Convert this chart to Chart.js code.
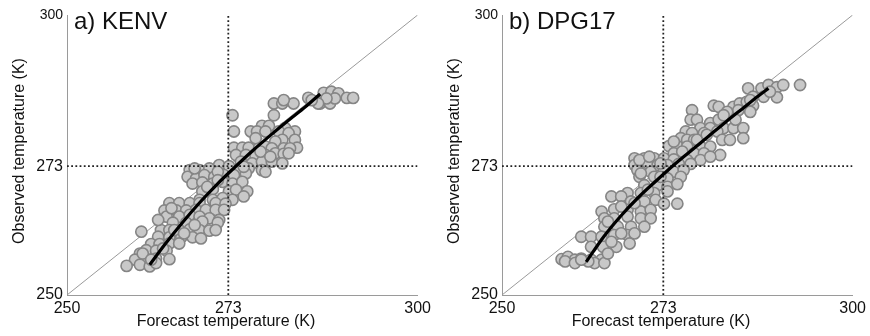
<!DOCTYPE html>
<html>
<head>
<meta charset="utf-8">
<title>Forecast vs observed temperature</title>
<script src="https://cdn.jsdelivr.net/npm/chart.js@4.4.1/dist/chart.umd.min.js"></script>
<style>
  html, body { margin: 0; padding: 0; background: #fff; }
  .panel { position: absolute; top: 0; width: 435px; height: 336px; }
</style>
</head>
<body>
<div class="panel" style="left:0"><canvas id="kenv" width="435" height="336"></canvas></div>
<div class="panel" style="left:435px"><canvas id="dpg17" width="435" height="336"></canvas></div>
<script>
const FONT = "'Liberation Sans', Arial, Helvetica, sans-serif";
Chart.defaults.font.family = FONT;
Chart.defaults.color = '#111';

// axis ticks (K) and the freezing point marked by the dotted lines
const tickValues = [250, 273, 300];
const freezing = 273;

// a) KENV
const kenvForecast = [
  284.4, 286.6, 287.7, 288.7, 286.1, 287.5, 288.2, 289.9, 290.8, 287.0,
  279.5, 280.7, 282.3, 285.8, 273.6, 279.5, 277.8, 278.8, 281.1,
  273.8, 276.2, 277.1, 278.3, 280.2, 282.5, 281.6, 280.7, 282.5, 279.7,
  273.8, 275.0, 275.9, 277.4, 278.3, 279.2, 280.9, 282.8, 281.8,
  274.1, 275.5, 276.9, 278.3, 279.7, 280.9,
  274.8, 276.4, 277.8, 279.2, 280.7,
  267.5, 268.9, 270.3, 271.7, 273.1, 274.5, 275.9, 277.8, 278.3,
  267.2, 268.4, 269.6, 271.0, 272.4, 273.8, 275.5,
  267.9, 269.3, 270.8, 272.2, 273.6, 275.0,
  269.3, 270.8, 273.1, 274.1, 275.7,
  268.9, 270.8, 272.2, 273.6, 275.2,
  264.6, 266.0, 267.5, 268.9, 271.2, 272.6,
  263.9, 265.6, 267.0, 268.4, 269.8, 271.2, 272.4,
  264.2, 266.0, 267.5, 268.9, 270.3, 271.7,
  265.1, 267.0, 269.3, 271.5,
  260.6, 263.4, 264.6, 266.0, 267.5, 268.9, 270.3, 271.2,
  263.0, 264.6, 266.3, 267.9, 269.1,
  262.0, 263.2, 264.6, 266.0,
  260.4, 261.3, 262.7, 264.2,
  259.7, 261.3, 262.7, 264.6,
  258.5, 260.4, 261.8, 262.7,
  268.2, 271.5, 275.2, 270.0, 271.5, 265.3, 266.7, 268.2, 263.0, 264.9,
  276.9, 277.6, 279.0, 281.6, 260.8, 262.0, 263.7, 280.9, 284.9
];
const kenvObserved = [
  285.2, 286.1, 286.3, 286.0, 284.2, 284.2, 285.1, 285.2, 285.2, 285.1,
  284.2, 284.2, 284.2, 284.2, 282.1, 282.1, 280.2, 280.2, 279.8,
  279.2, 279.2, 279.2, 279.2, 279.2, 279.2, 278.9, 277.7, 277.7, 277.4,
  276.3, 276.3, 276.3, 276.3, 276.5, 276.2, 276.2, 276.3, 276.2,
  275.0, 275.0, 274.7, 275.0, 275.3, 275.2,
  273.8, 273.5, 273.8, 273.8, 273.5,
  272.3, 272.3, 272.6, 273.2, 273.0, 272.3, 272.6, 272.3, 272.0,
  271.1, 270.8, 271.4, 271.1, 271.4, 271.4, 271.7,
  269.9, 270.1, 269.9, 270.2, 269.9, 270.2,
  268.5, 268.9, 268.5, 268.8, 268.5,
  267.0, 267.0, 267.3, 267.0, 267.6,
  266.4, 266.4, 266.4, 266.4, 266.4, 266.3,
  265.1, 265.1, 265.1, 265.2, 265.2, 265.2, 265.2,
  264.0, 264.0, 264.3, 264.0, 263.7, 263.4,
  262.9, 262.9, 263.1, 262.9,
  261.3, 261.6, 261.6, 261.6, 261.7, 261.6, 261.5, 261.6,
  260.4, 260.3, 260.3, 260.3, 260.1,
  259.1, 259.1, 259.2, 259.2,
  257.4, 258.0, 257.9, 257.9,
  256.3, 256.3, 256.5, 256.4,
  255.2, 255.4, 255.1, 255.7,
  272.6, 272.0, 272.9, 269.3, 270.5, 261.6, 261.0, 262.5, 263.4, 265.5,
  278.0, 275.6, 274.7, 275.3, 257.4, 256.3, 258.3, 284.8, 284.8
];
const kenvFitX = [261.8, 264.0, 266.5, 269.0, 271.5, 274.0, 276.5, 279.0, 281.5, 284.0, 286.1];
const kenvFitY = [255.4, 259.1, 263.0, 266.6, 269.9, 272.9, 275.8, 278.5, 281.1, 283.6, 285.9];

// b) DPG17
const dpgForecast = [
  285.1, 287.0, 288.0, 289.2, 290.1, 292.5, 287.3, 289.2, 285.8,
  280.2, 280.9, 283.0, 283.9, 284.9, 285.8, 283.7,
  277.1, 282.1, 285.4,
  276.9, 277.8, 279.7, 280.9, 281.6,
  278.3, 279.7, 281.6, 283.0, 284.4,
  276.2, 277.1, 278.8, 280.7,
  275.5, 276.4, 277.4, 281.4, 282.5, 284.4,
  273.8, 275.0, 276.4, 278.3, 279.7,
  274.5, 275.7, 277.4, 278.8, 281.1,
  268.9, 270.3, 271.7, 273.1, 274.5, 276.4, 278.3, 279.7,
  268.9, 270.8, 272.2, 273.6, 275.2, 276.9,
  269.3, 271.2, 273.1, 274.5, 275.9,
  269.6, 271.7, 273.6, 275.5,
  270.3, 272.2, 273.6, 275.0,
  267.9, 269.8, 271.7, 273.6,
  265.6, 267.0, 268.4, 270.3, 271.9, 273.1, 275.0,
  264.2, 266.0, 267.9, 269.8, 271.2,
  264.6, 266.0, 267.9, 269.8, 271.2,
  264.6, 266.5, 268.4, 270.3,
  261.3, 262.7, 264.2, 266.0, 267.9,
  264.4, 266.3, 268.2,
  258.5, 259.4, 260.4, 261.3, 262.7, 264.2, 263.2,
  259.0, 260.4, 262.3, 264.6,
  269.6, 271.0, 272.6, 269.8, 272.6, 270.8, 268.9, 267.0, 265.1, 267.0,
  268.9, 265.6, 274.5, 277.8, 279.2, 283.3, 285.4, 288.2, 261.3, 265.1, 262.7
];
const dpgObserved = [
  286.9, 286.9, 287.5, 287.1, 287.5, 287.5, 285.4, 285.3, 285.4,
  283.8, 283.6, 283.6, 284.2, 284.5, 283.8, 283.0,
  283.0, 282.7, 282.7,
  281.3, 281.3, 280.7, 281.3, 282.1,
  279.8, 279.8, 279.8, 279.8, 279.8,
  279.2, 278.9, 278.9, 279.2,
  278.0, 277.7, 277.7, 277.7, 277.7, 278.0,
  276.6, 276.6, 276.5, 276.5, 276.5,
  275.3, 275.6, 275.3, 275.3, 275.0,
  274.4, 274.4, 274.4, 274.4, 274.2, 274.1, 274.1, 274.7,
  273.2, 273.5, 273.2, 273.2, 273.4, 273.4,
  272.3, 272.0, 272.3, 272.0, 272.3,
  271.1, 271.1, 270.8, 271.1,
  269.6, 269.6, 269.3, 269.8,
  268.2, 268.2, 268.2, 268.5,
  267.6, 267.6, 266.7, 266.7, 267.0, 266.3, 266.3,
  264.9, 265.3, 265.2, 264.9, 265.2,
  263.7, 263.7, 264.0, 263.7, 263.7,
  262.2, 262.2, 262.2, 262.2,
  260.4, 260.4, 260.4, 260.7, 260.7,
  258.6, 258.6, 259.2,
  256.4, 256.8, 256.3, 256.5, 256.3, 256.3, 255.7,
  256.0, 255.7, 256.0, 255.7,
  274.1, 274.7, 273.5, 271.7, 271.1, 268.8, 266.4, 265.8, 263.1, 261.0,
  261.0, 259.5, 277.4, 277.7, 278.6, 281.3, 284.8, 286.3, 256.3, 257.4, 258.6
];
const dpgFitX = [262.0, 264.5, 267.0, 269.5, 272.0, 274.5, 277.0, 279.5, 282.0, 284.5, 286.5, 288.0];
const dpgFitY = [255.9, 260.4, 264.2, 267.5, 270.4, 273.2, 275.8, 278.4, 281.0, 283.5, 285.5, 286.9];

const pairs = (xs, ys) => xs.map((x, i) => ({ x, y: ys[i] }));

// panel letter and axis titles
const panelText = {
  id: 'panelText',
  afterDraw(chart, args, opts) {
    const ctx = chart.ctx;
    ctx.save();
    ctx.fillStyle = '#111';
    ctx.textAlign = 'left';
    ctx.textBaseline = 'alphabetic';
    ctx.font = '24px ' + FONT;
    ctx.fillText(opts.label, 74, 29);

    ctx.font = '16px ' + FONT;
    ctx.textAlign = 'center';
    ctx.textBaseline = 'middle';
    ctx.fillText('Forecast temperature (K)', 226, 322);
    ctx.translate(20, 151);
    ctx.rotate(-Math.PI / 2);
    ctx.fillText('Observed temperature (K)', 0, 0);
    ctx.restore();
  }
};

function setTicks(axis) {
  axis.ticks = tickValues.map(v => ({ value: v }));
}

function buildPanel(id, label, forecast, observed, fitX, fitY) {
  new Chart(document.getElementById(id), {
    type: 'scatter',
    data: {
      datasets: [
        {
          // fitted curve
          data: pairs(fitX, fitY),
          showLine: true,
          borderColor: '#000',
          borderWidth: 3.2,
          pointRadius: 0,
          cubicInterpolationMode: 'monotone'
        },
        {
          // freezing point, forecast
          data: [{ x: freezing, y: 250 }, { x: freezing, y: 300 }],
          showLine: true,
          borderColor: '#222',
          borderWidth: 1.8,
          borderDash: [1.8, 2.4],
          pointRadius: 0
        },
        {
          // freezing point, observed
          data: [{ x: 250, y: freezing }, { x: 300, y: freezing }],
          showLine: true,
          borderColor: '#222',
          borderWidth: 1.8,
          borderDash: [1.8, 2.4],
          pointRadius: 0
        },
        {
          data: pairs(forecast, observed),
          pointRadius: 5.6,
          pointBackgroundColor: '#c8c8c8',
          pointBorderColor: '#858585',
          pointBorderWidth: 1.6
        },
        {
          // one-to-one line
          data: [{ x: 250, y: 250 }, { x: 300, y: 300 }],
          showLine: true,
          borderColor: '#9a9a9a',
          borderWidth: 1,
          pointRadius: 0
        }
      ]
    },
    options: {
      responsive: false,
      animation: false,
      layout: { padding: { top: 15, right: 15, left: 0, bottom: 0 } },
      plugins: {
        legend: { display: false },
        tooltip: { enabled: false },
        panelText: { label }
      },
      scales: {
        x: {
          type: 'linear',
          min: 250,
          max: 300,
          afterBuildTicks: setTicks,
          afterFit(axis) { axis.height = 41; },
          grid: { display: false, drawTicks: false },
          border: { color: '#9a9a9a', width: 1 },
          ticks: { autoSkip: false, maxRotation: 0, padding: 4, font: { size: 16 } }
        },
        y: {
          type: 'linear',
          min: 250,
          max: 300,
          afterBuildTicks: setTicks,
          afterFit(axis) { axis.width = 67; },
          grid: { display: false, drawTicks: false },
          border: { color: '#9a9a9a', width: 1 },
          ticks: {
            autoSkip: false,
            padding: 4,
            font: ctx => ({ family: FONT, size: ctx.tick && ctx.tick.value === 300 ? 14 : 16 })
          }
        }
      }
    },
    plugins: [panelText]
  });
}

buildPanel('kenv', 'a) KENV', kenvForecast, kenvObserved, kenvFitX, kenvFitY);
buildPanel('dpg17', 'b) DPG17', dpgForecast, dpgObserved, dpgFitX, dpgFitY);
</script>
</body>
</html>
